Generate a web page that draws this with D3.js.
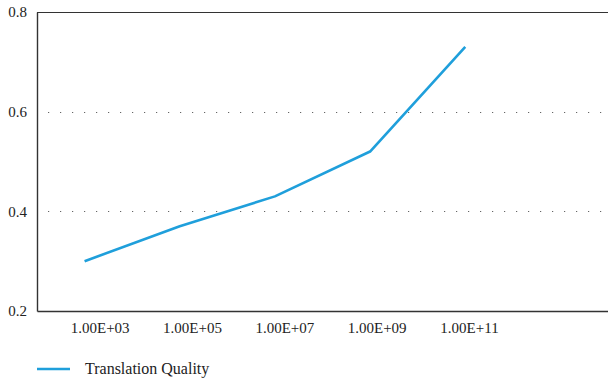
<!DOCTYPE html>
<html>
<head>
<meta charset="utf-8">
<script src="https://cdn.jsdelivr.net/npm/d3@7"></script>
<style>
  body { margin: 0; background: #fff; }
  svg text { font-family: 'Liberation Serif', 'Times New Roman', serif !important; fill: #222; font-size: 15px; }
</style>
</head>
<body>
<div id="chart"></div>
<script>

// categories along x (the last band is empty in the original)
var categories = ["1.00E+03", "1.00E+05", "1.00E+07", "1.00E+09", "1.00E+11", ""];
var quality = [0.30, 0.37, 0.43, 0.52, 0.73];
var yTicks = [0.2, 0.4, 0.6, 0.8];
var seriesName = "Translation Quality";

var margin = {top: 12, right: 0, bottom: 68, left: 37},
    width = 608 - margin.left - margin.right,
    height = 379 - margin.top - margin.bottom;

var svg = d3.select("#chart")
  .append("svg")
    .attr("width", width + margin.left + margin.right)
    .attr("height", height + margin.top + margin.bottom)
  .append("g")
    .attr("transform", "translate(" + margin.left + "," + margin.top + ")");

var x = d3.scaleBand()
  .domain(categories)
  .range([0, width]);

// the labels in the original sit a little to the right of the points
var xLabels = d3.scaleBand()
  .domain(categories)
  .range([17, width]);

var y = d3.scaleLinear()
  .domain([0.2, 0.8])
  .range([height, 0]);

// dotted gridlines for the inner ticks
svg.append("g")
  .selectAll("line")
  .data(yTicks.filter(function(d) { return d > 0.2 && d < 0.8; }))
  .enter().append("line")
    .attr("x1", 0)
    .attr("x2", width)
    .attr("y1", function(d) { return Math.round(y(d)) + 0.5; })
    .attr("y2", function(d) { return Math.round(y(d)) + 0.5; })
    .attr("stroke", "#666")
    .attr("stroke-width", 1.2)
    .attr("stroke-dasharray", "1.2,10.8")
    .attr("stroke-dashoffset", -11);

// top line at 0.8
svg.append("line")
  .attr("x1", 0)
  .attr("x2", width)
  .attr("y1", y(0.8) + 0.5)
  .attr("y2", y(0.8) + 0.5)
  .attr("stroke", "#333")
  .attr("stroke-width", 1.2);

// x axis line
var xAxis = svg.append("g")
  .attr("transform", "translate(0," + height + ")")
  .call(d3.axisBottom(x).tickSize(0).tickFormat(""));
xAxis.select(".domain").attr("stroke", "#333").attr("stroke-width", 1.4);

// x labels
var xText = svg.append("g")
  .attr("transform", "translate(0," + height + ")")
  .call(d3.axisBottom(xLabels).tickSize(0).tickPadding(11));
xText.select(".domain").remove();

// y axis
var yAxis = svg.append("g")
  .call(d3.axisLeft(y).tickValues(yTicks).tickSize(0).tickPadding(10).tickFormat(d3.format(".1f")));
yAxis.select(".domain").attr("stroke", "#333").attr("stroke-width", 1.4);

// the line
var line = d3.line()
  .x(function(d, i) { return x(categories[i]) + x.bandwidth() / 2; })
  .y(function(d) { return y(d); });

svg.append("path")
  .datum(quality)
  .attr("fill", "none")
  .attr("stroke", "#1f9fdb")
  .attr("stroke-width", 2.6)
  .attr("stroke-linejoin", "round")
  .attr("d", line);

// legend
var legend = svg.append("g")
  .attr("transform", "translate(0," + (height + 58) + ")");
legend.append("line")
  .attr("x1", 0)
  .attr("x2", 33)
  .attr("stroke", "#1f9fdb")
  .attr("stroke-width", 2.6);
legend.append("text")
  .attr("x", 48)
  .attr("y", 5)
  .style("font-size", "16px")
  .text(seriesName);

</script>
</body>
</html>
